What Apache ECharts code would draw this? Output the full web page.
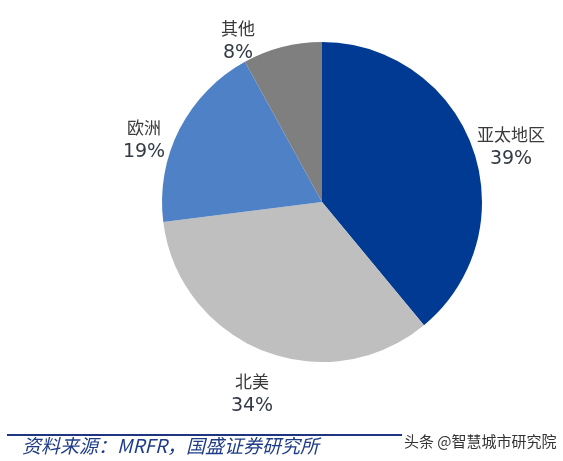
<!DOCTYPE html>
<html><head><meta charset="utf-8">
<script src="https://cdn.jsdelivr.net/npm/echarts@6/dist/echarts.min.js"></script>
<style>html,body{margin:0;padding:0;background:#fff}#c{width:563px;height:461px}</style>
</head><body><div id="c"></div>
<script>
const categories = ['亚太地区', '北美', '欧洲', '其他'];
const values = [39, 34, 19, 8];
const colors = ['#003A93', '#BFBFBF', '#4F81C7', '#7F7F7F'];
const labelPos = [[511, 147], [252, 394], [144, 140], [238, 41]];
const source = '资料来源：MRFR，国盛证券研究所';
const watermark = '头条 @智慧城市研究院';

const chart = echarts.init(document.getElementById('c'));
const gl = categories.map((name, i) => ({
  type: 'text', x: labelPos[i][0], y: labelPos[i][1], z: 10,
  style: {
    text: '{n|' + name + '}\n{p|' + values[i] + '%}',
    align: 'center', verticalAlign: 'middle',
    rich: {
      n: { fill: '#3a3a3a', font: '17px "Noto Sans CJK SC"', lineHeight: 24, align: 'center' },
      p: { fill: '#333a45', font: '19px "DejaVu Sans"', lineHeight: 24, align: 'center' }
    }
  }
}));
chart.setOption({
  animation: false,
  series: [{
    type: 'pie', center: [322, 202], radius: 160, startAngle: 90, clockwise: true,
    label: { show: false }, labelLine: { show: false },
    itemStyle: { borderWidth: 0 },
    data: categories.map((n, i) => ({ name: n, value: values[i], itemStyle: { color: colors[i] } }))
  }],
  graphic: gl.concat([
    { type: 'line', shape: { x1: 7, y1: 435, x2: 563, y2: 435 }, style: { stroke: '#1F3580', lineWidth: 2 } },
    { type: 'text', x: 22, y: 446, style: { text: source, fill: '#1F3C88', font: 'italic 19px "Noto Sans CJK SC", "DejaVu Sans"', verticalAlign: 'middle' } },
    { type: 'rect', shape: { x: 402, y: 428, width: 161, height: 25 }, style: { fill: '#fff' } },
    { type: 'text', x: 404, y: 441, style: { text: watermark, fill: '#333', font: '15px "Noto Sans CJK SC"', verticalAlign: 'middle' } }
  ])
});
</script></body></html>
